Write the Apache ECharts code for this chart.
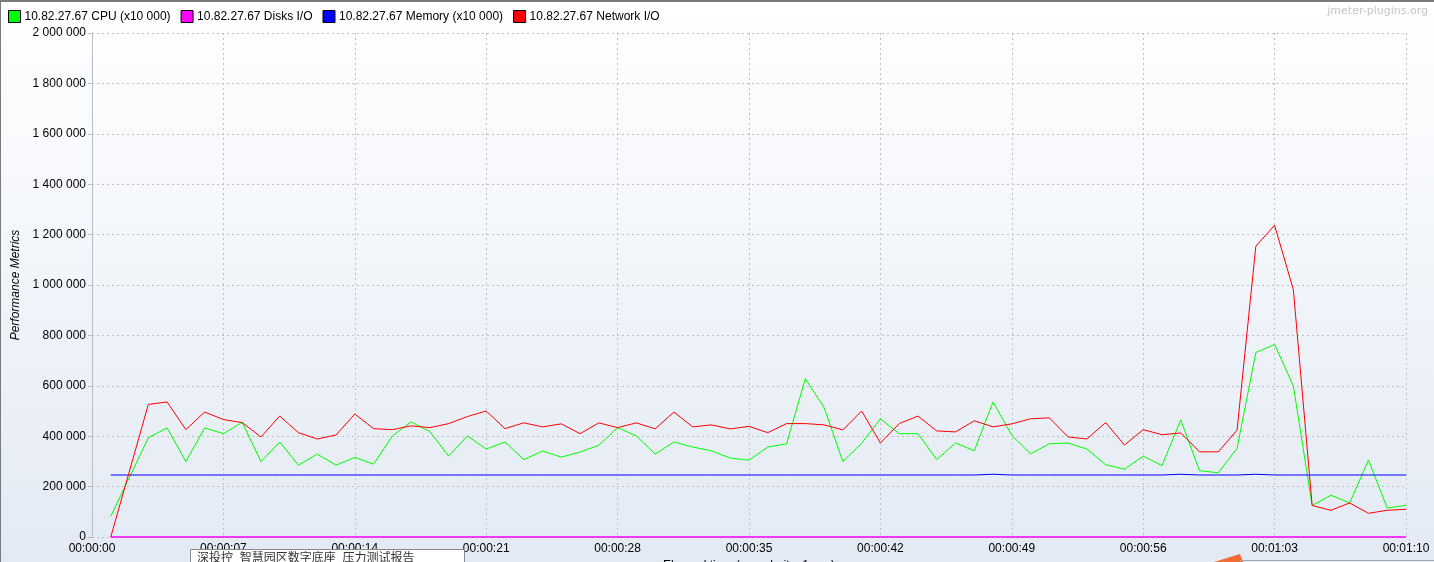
<!DOCTYPE html>
<html>
<head>
<meta charset="utf-8">
<script src="https://cdn.jsdelivr.net/npm/echarts@6/dist/echarts.min.js"></script>
<style>
html,body{margin:0;padding:0;background:#fff;}
#chart{width:1434px;height:562px;}
</style>
</head>
<body>
<div id="chart"></div>
<script>
// Elapsed seconds of each sample
var seconds = [1,3,4,5,6,7,8,9,10,11,12,13,14,15,16,17,18,19,20,21,22,23,24,25,26,27,28,29,30,31,32,33,34,35,36,37,38,39,40,41,42,43,44,45,46,47,48,49,50,51,52,53,54,55,56,57,58,59,60,61,62,63,64,65,66,67,68,69,70];
var seriesNames = ['10.82.27.67 CPU (x10 000)', '10.82.27.67 Disks I/O', '10.82.27.67 Memory (x10 000)', '10.82.27.67 Network I/O'];
var cpu = [82000,394000,433000,299000,433000,410000,455000,299000,377000,285000,329000,285000,316000,289000,401000,457000,418000,321000,401000,349000,377000,307000,341000,317000,337000,364000,434000,401000,329000,377000,357000,342000,313000,305000,357000,370000,628000,514000,299000,372000,469000,410000,410000,307000,373000,342000,536000,403000,330000,370000,373000,349000,287000,269000,321000,283000,465000,263000,255000,352000,732000,764000,599000,125000,166000,135000,306000,115000,126000];
var disks = [0,0,0,0,0,0,0,0,0,0,0,0,0,0,0,0,0,0,0,0,0,0,0,0,0,0,0,0,0,0,0,0,0,0,0,0,0,0,0,0,0,0,0,0,0,0,0,0,0,0,0,0,0,0,0,0,0,0,0,0,0,0,0,0,0,0,0,0,0];
var memory = [246000,246000,246000,246000,246000,246000,246000,246000,246000,246000,246000,246000,246000,246000,246000,246000,246000,246000,246000,246000,246000,246000,246000,246000,246000,246000,246000,246000,246000,246000,246000,246000,246000,246000,246000,246000,246000,246000,246000,246000,246000,246000,246000,246000,246000,246000,249000,246000,246000,246000,246000,246000,246000,246000,246000,246000,249000,246000,246000,246000,249000,246000,246000,246000,246000,246000,246000,246000,246000];
var network = [0,526000,536000,426000,496000,466000,454000,397000,480000,414000,389000,405000,488000,430000,426000,441000,434000,450000,478000,500000,430000,453000,437000,449000,410000,453000,434000,453000,429000,496000,437000,445000,429000,439000,414000,450000,450000,445000,425000,500000,373000,450000,480000,421000,417000,461000,437000,449000,469000,473000,397000,389000,454000,365000,426000,406000,413000,338000,338000,424000,1154000,1237000,981000,125000,106000,135000,94000,106000,110000];
var colors = ['#00ff00', '#ff00ff', '#0000ff', '#ff0000'];
var yAxisTitle = 'Performance Metrics';
var xAxisTitle = 'Elapsed time (granularity: 1 sec)';
var watermark = 'jmeter-plugins.org';
var overlayText = '深投控_智慧园区数字底座_压力测试报告';

function pairs(vals){ return seconds.map(function(s,i){ return [s, vals[i]]; }); }
function pad(n){ return (n<10?'0':'')+n; }
function fmtTime(v){ var h=Math.floor(v/3600), m=Math.floor((v%3600)/60), s=Math.round(v%60); return pad(h)+':'+pad(m)+':'+pad(s); }
function fmtNum(v){ return String(Math.round(v)).replace(/\B(?=(\d{3})+(?!\d))/g, ' '); }

var FONT = '"Liberation Sans", Arial, sans-serif';
var chart = echarts.init(document.getElementById('chart'), null, {renderer:'canvas'});
var allData = [cpu, disks, memory, network];
var option = {
  animation: false,
  backgroundColor: new echarts.graphic.LinearGradient(0,0,0,1,[{offset:0,color:'#ffffff'},{offset:1,color:'#e3eaf4'}]),
  textStyle: {fontFamily: FONT},
  legend: {
    left: 8, top: 10, padding: 0, itemWidth: 12, itemHeight: 12, itemGap: 10, icon: 'rect',
    textStyle: {fontFamily: FONT, fontSize: 12, color: '#000', padding: [0,0,0,-1]},
    data: seriesNames.map(function(n,i){ return {name:n, itemStyle:{color:colors[i], borderColor:'#000', borderWidth:1}}; })
  },
  grid: {left: 92, right: 28, top: 33, bottom: 25, containLabel: false, outerBoundsMode: 'none'},
  xAxis: {
    type: 'value', min: 0, max: 70, interval: 7,
    name: xAxisTitle, nameLocation: 'middle', nameGap: 22,
    nameTextStyle: {fontFamily: FONT, fontSize: 12, color: '#000'},
    axisLine: {show: false}, axisTick: {show: false},
    axisLabel: {formatter: fmtTime, fontFamily: FONT, fontSize: 12, color: '#000', margin: 6, showMinLabel: true, showMaxLabel: true},
    splitLine: {show: true, lineStyle: {color: '#c0c0c0', type: [2,3], width: 1}}
  },
  yAxis: {
    type: 'value', min: 0, max: 2000000, interval: 200000,
    name: yAxisTitle, nameLocation: 'middle', nameGap: 69, nameRotate: 90,
    nameTextStyle: {fontFamily: FONT, fontSize: 12, fontStyle: 'italic', color: '#000'},
    axisLine: {show: true, lineStyle: {color: '#b8bec8'}},
    axisTick: {show: true, length: 4, lineStyle: {color: '#b8bec8'}},
    axisLabel: {formatter: fmtNum, fontFamily: FONT, fontSize: 12, color: '#000', margin: 6, padding: [2,0,0,0]},
    splitLine: {show: true, lineStyle: {color: '#c0c0c0', type: [2,3], width: 1}}
  },
  series: seriesNames.map(function(n,i){
    return {name:n, type:'line', data: pairs(allData[i]), showSymbol:false, symbol:'none', clip:false,
      lineStyle:{color:colors[i], width: (i===1 ? 1.5 : 1)}, itemStyle:{color:colors[i]}, z: 2+i};
  }),
  graphic: [
    {type:'line', shape:{x1:0,y1:1,x2:1434,y2:1}, style:{stroke:'#7a7a7a', lineWidth:2}, z:100},
    {type:'line', shape:{x1:0.5,y1:0,x2:0.5,y2:562}, style:{stroke:'#7a7a7a', lineWidth:1}, z:100},
    {type:'text', right: 6, top: 6, style:{text: watermark, fill:'#c4c8cc', font:'11px "DejaVu Sans", sans-serif'}, z:100},
    {type:'rect', shape:{x:190.5,y:549.5,width:274,height:20}, style:{fill:'#ffffff', stroke:'#8a8a8a', lineWidth:1}, z:100},
    {type:'text', left: 197, top: 551, style:{text: overlayText, fill:'#333', font:'12px "Noto Sans CJK SC", sans-serif'}, z:101},
    {type:'polygon', shape:{points:[[1214,562],[1240,554],[1243,562]]}, style:{fill:'#f26a35'}, z:100},
    {type:'line', shape:{x1:1240,y1:560.5,x2:1434,y2:560.5}, style:{stroke:'#a3a9b0', lineWidth:1}, z:100}
  ]
};
chart.setOption(option);
</script>
</body>
</html>
